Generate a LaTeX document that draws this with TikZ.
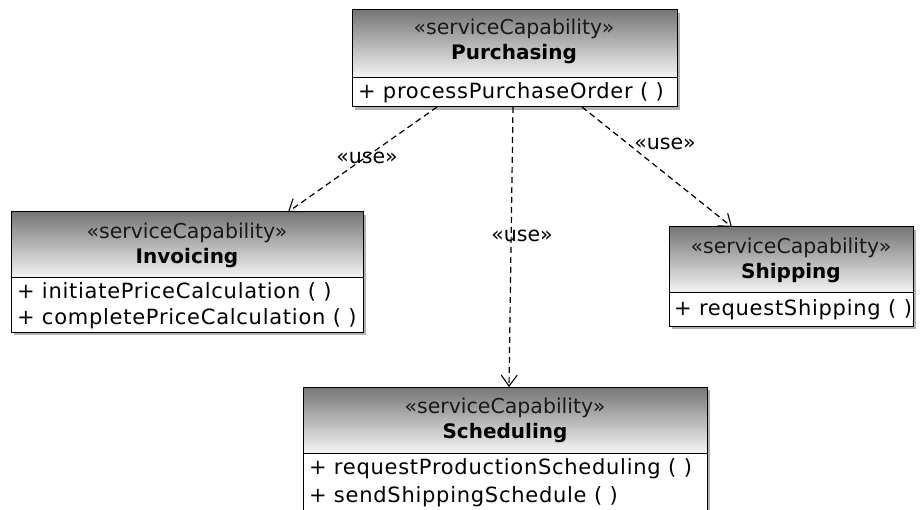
\documentclass[tikz,border=0pt]{standalone}
\usepackage{fontspec}
\setmainfont{DejaVu Sans}
\newfontfamily\methfont[LetterSpace=3.5]{DejaVu Sans}
\usetikzlibrary{arrows.meta,calc}
\definecolor{hdrtop}{RGB}{118,118,118}
\definecolor{hdrbot}{RGB}{245,245,245}
\begin{document}
\begin{tikzpicture}[x=1pt,y=-1pt,
  every node/.style={inner sep=0pt, outer sep=0pt},
  hdr/.style={draw=black, line width=1pt, rectangle, top color=hdrtop, bottom color=hdrbot, anchor=north west},
  cmp/.style={draw=black, line width=1pt, rectangle, fill=white, anchor=north west},
  shd/.style={fill=black!30},
  ster/.style={font=\fontsize{20.5}{24}\selectfont, text=black!90},
  cname/.style={font=\fontsize{20}{24}\selectfont\bfseries},
  meth/.style={font=\methfont\fontsize{21}{24}\selectfont, anchor=west},
  dep/.style={draw=black, line width=1.2pt, dash pattern=on 6pt off 4pt, -{Straight Barb[length=11pt,width=16pt,line width=1.1pt]}},
  lbl/.style={font=\fontsize{20.5}{24}\selectfont}]
\useasboundingbox (0,0) rectangle (920,510);
\clip (0,0) rectangle (920,510);
\fill[white] (0,0) rectangle (920,510);
% shadows
\fill[shd] (355,13) rectangle (680,110);
\fill[shd] (14,215) rectangle (366,335);
\fill[shd] (672,230) rectangle (916,329);
\fill[shd] (306,390) rectangle (710,540);
% Purchasing
\node[hdr, minimum width=325pt, minimum height=68pt] (purH) at (352,10) {};
\node[cmp, minimum width=325pt, minimum height=29pt] (purC) at (352,78) {};
\node[ster] (purS) at (514,29) {«serviceCapability»};
\node[cname] (purN) at (514,54) {Purchasing};
\node[meth] (purM) at (358,93) {+ processPurchaseOrder ( )};
% Invoicing
\node[hdr, minimum width=352pt, minimum height=66pt] (invH) at (11,212) {};
\node[cmp, minimum width=352pt, minimum height=54pt] (invC) at (11,278) {};
\node[ster] (invS) at (187,233) {«serviceCapability»};
\node[cname] (invN) at (187,258) {Invoicing};
\node[meth] (invM1) at (17,292) {+ initiatePriceCalculation ( )};
\node[meth] (invM2) at (17,319) {+ completePriceCalculation ( )};
% Shipping
\node[hdr, minimum width=244pt, minimum height=66pt] (shiH) at (669,227) {};
\node[cmp, minimum width=244pt, minimum height=33pt] (shiC) at (669,293) {};
\node[ster] (shiS) at (791,248) {«serviceCapability»};
\node[cname] (shiN) at (791,273) {Shipping};
\node[meth] (shiM) at (674,310) {+ requestShipping ( )};
% Scheduling
\node[hdr, minimum width=404pt, minimum height=66pt] (schH) at (303,387) {};
\node[cmp, minimum width=404pt, minimum height=80pt] (schC) at (303,453) {};
\node[ster] (schS) at (505,408) {«serviceCapability»};
\node[cname] (schN) at (505,433) {Scheduling};
\node[meth] (schM1) at (309,469) {+ requestProductionScheduling ( )};
\node[meth] (schM2) at (309,497) {+ sendShippingSchedule ( )};
% dependencies
\draw[dep] ($(purC.south west)+(85,0)$) -- ($(invH.north west)+(277,0)$);
\draw[dep] ($(purC.south west)+(161,0)$) -- ($(schH.north west)+(206,0)$);
\draw[dep] ($(purC.south west)+(230,0)$) -- ($(shiH.north west)+(63,0)$);
\node[lbl] (u1) at (367,158) {«use»};
\node[lbl] (u2) at (522,236) {«use»};
\node[lbl] (u3) at (665,144) {«use»};
\end{tikzpicture}
\end{document}
